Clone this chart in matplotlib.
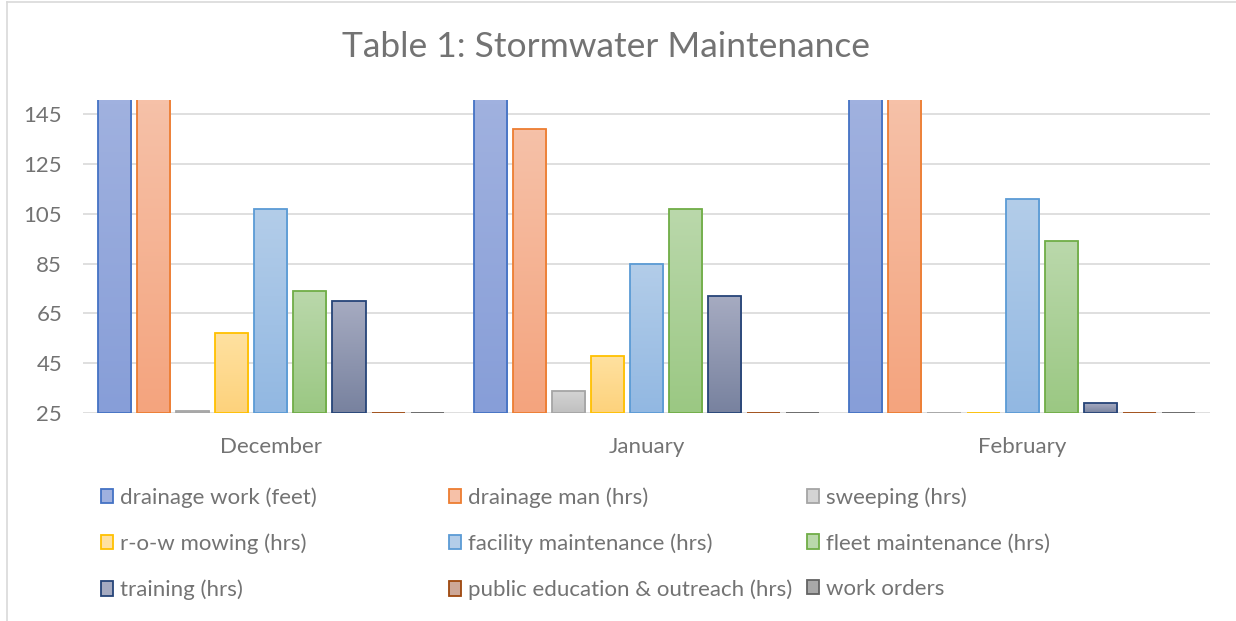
import numpy as np
import matplotlib.pyplot as plt
from matplotlib.colors import LinearSegmentedColormap
from matplotlib.lines import Line2D
from matplotlib.patches import Patch

plt.rcParams['font.family'] = ['Lato', 'DejaVu Sans']

# data (values above the axis top are cut off there)
months = ['December', 'January', 'February']
series_names = ['drainage work (feet)', 'drainage man (hrs)', 'sweeping (hrs)',
                'r-o-w mowing (hrs)', 'facility maintenance (hrs)',
                'fleet maintenance (hrs)', 'training (hrs)',
                'public education & outreach (hrs)', 'work orders']
drainage_work = [300, 300, 300]
drainage_man = [200, 139, 200]
sweeping = [26, 34, 0]
row_mowing = [57, 48, 0]
facility_maint = [107, 85, 111]
fleet_maint = [74, 107, 94]
training = [70, 72, 29]
public_education = [0, 0, 0]
work_orders = [0, 0, 0]
values = [drainage_work, drainage_man, sweeping, row_mowing, facility_maint,
          fleet_maint, training, public_education, work_orders]

y_ticks = [25, 45, 65, 85, 105, 125, 145]
y_min, y_max = 25, 150.7

# (edge, gradient top, gradient bottom)
styles = [('#4472C4', '#A0B1DF', '#879ED8'),
          ('#ED7D31', '#F6C1A8', '#F4A47E'),
          ('#A5A5A5', '#D4D4D4', '#C0C0C0'),
          ('#FFC000', '#FFE1A0', '#FDD27C'),
          ('#5B9BD5', '#B3CDE9', '#92B8E2'),
          ('#70AD47', '#BAD8AB', '#9BC883'),
          ('#264478', '#A6ABC1', '#78829F'),
          ('#9E480E', '#CDA898', '#B68875'),
          ('#636363', '#A8A8A8', '#8A8A8A')]

text_col = '#737373'
grid_col = '#D9D9D9'

fig = plt.figure(figsize=(12.36, 6.21), dpi=100)
ax = fig.add_axes([83 / 1236, 1 - 413 / 621, (1210 - 83) / 1236, (413 - 100) / 621])

x = np.arange(len(months))
step, width = 0.104, 0.088
grad = np.linspace(1, 0, 64).reshape(-1, 1)

for i, (vals, (edge, top, bot)) in enumerate(zip(values, styles)):
    pos = x + (i - 4) * step
    heights = [max(v - y_min, 0) for v in vals]
    bars = ax.bar(pos, heights, width, bottom=y_min, facecolor='none',
                  edgecolor=edge, linewidth=1.3, zorder=3)
    cmap = LinearSegmentedColormap.from_list('g%d' % i, [bot, top])
    for rect in bars:
        if rect.get_height() <= 0:
            continue
        x0 = rect.get_x()
        y_top = min(rect.get_y() + rect.get_height(), y_max)
        im = ax.imshow(grad, extent=[x0, x0 + width, y_min, y_top], cmap=cmap,
                       aspect='auto', zorder=2, interpolation='bilinear')
        im.set_clip_path(rect)

ax.set_xlim(-0.5, 2.5)
ax.set_ylim(y_min, y_max)
ax.set_yticks(y_ticks)
ax.set_xticks(x)
ax.set_xticklabels(months)
ax.tick_params(axis='both', length=0, labelsize=16, colors=text_col)
ax.tick_params(axis='y', pad=15)
ax.tick_params(axis='x', pad=17)
ax.grid(axis='y', color=grid_col, linewidth=1.2, zorder=0)
ax.set_axisbelow(True)
for s in ax.spines.values():
    s.set_visible(False)

fig.text(0.49, 1 - 47 / 621, 'Table 1: Stormwater Maintenance', ha='center',
         va='center', fontsize=25.5, color=text_col)

# chart border
fig.add_artist(Line2D([7 / 1236, 7 / 1236], [0, 1 - 2 / 621], color=grid_col, lw=1.2))
fig.add_artist(Line2D([7 / 1236, 1], [1 - 2 / 621, 1 - 2 / 621], color=grid_col, lw=1.2))

# legend: three columns of three entries, filled row by row
col_x = [101 / 1236, 449 / 1236, 807 / 1236]
for c in range(3):
    idx = [c, c + 3, c + 6]
    handles = [Patch(facecolor=styles[k][1], edgecolor=styles[k][0], linewidth=1.3)
               for k in idx]
    labels = [series_names[k] for k in idx]
    fig.legend(handles, labels, loc='upper left',
               bbox_to_anchor=(col_x[c], 1 - 487 / 621), frameon=False,
               fontsize=16, labelcolor=text_col, handlelength=0.55,
               handleheight=0.6, handletextpad=0.3, labelspacing=1.16,
               borderaxespad=0, borderpad=0)

fig.savefig('out.png', dpi=100)
